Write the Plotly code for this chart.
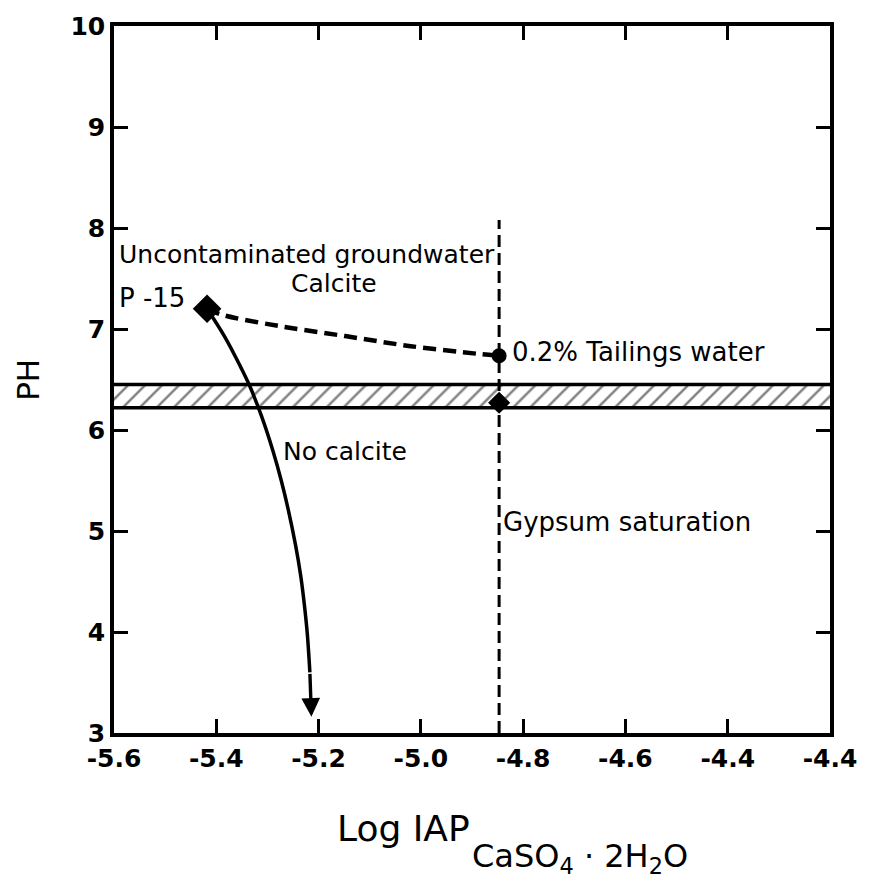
import plotly.graph_objects as go

# ---- data ----
x_ticks = [-5.6, -5.4, -5.2, -5.0, -4.8, -4.6, -4.4, -4.2]
x_ticktext = ["-5.6", "-5.4", "-5.2", "-5.0", "-4.8", "-4.6", "-4.4", "-4.4"]
y_ticks = [3, 4, 5, 6, 7, 8, 9, 10]

# P-15 uncontaminated groundwater
p15_x = [-5.418]
p15_y = [7.20]

# 0.2% tailings water
tail_x = [-4.847]
tail_y = [6.735]

# gypsum saturation point
gyp_x = [-4.847]
gyp_y = [6.27]

# gypsum saturation line
gypline_x = [-4.847, -4.847]
gypline_y = [3.0, 8.08]

# calcite path (dashed)
calc_x = [-5.418, -5.388, -5.278, -5.148, -5.02, -4.89, -4.847]
calc_y = [7.20, 7.14, 7.03, 6.93, 6.83, 6.755, 6.735]

# no calcite path (solid, arrow at end)
nocalc_x = [-5.418, -5.382, -5.352, -5.335, -5.311, -5.289, -5.273,
            -5.259, -5.245, -5.235, -5.228, -5.222, -5.217, -5.214]
nocalc_y = [7.20, 6.91, 6.62, 6.44, 6.13, 5.79, 5.50,
            5.205, 4.86, 4.56, 4.28, 3.98, 3.60, 3.16]

# hatched pH band
band_low = 6.22
band_high = 6.45
x_min, x_max = -5.6, -4.2

FONT = "DejaVu Sans"

fig = go.Figure()

# hatched band
fig.add_trace(go.Scatter(
    x=[x_min, x_max, x_max, x_min, x_min],
    y=[band_low, band_low, band_high, band_high, band_low],
    mode="lines", fill="toself", fillcolor="white",
    fillpattern=dict(shape="/", fgcolor="black", bgcolor="white", size=12, solidity=0.2),
    line=dict(color="black", width=0), hoverinfo="skip", showlegend=False))
for yv in (band_low, band_high):
    fig.add_trace(go.Scatter(x=[x_min, x_max], y=[yv, yv], mode="lines",
                             line=dict(color="black", width=3.5), showlegend=False))

# gypsum saturation line
fig.add_trace(go.Scatter(x=gypline_x, y=gypline_y, mode="lines",
                         line=dict(color="black", width=3, dash="12px,6px"), showlegend=False))

# calcite dashed path
fig.add_trace(go.Scatter(x=calc_x, y=calc_y, mode="lines", line_shape="spline",
                         line=dict(color="black", width=4.5, dash="13px,7px"), showlegend=False))

# no calcite path
fig.add_trace(go.Scatter(x=nocalc_x[:-1], y=nocalc_y[:-1], mode="lines", line_shape="spline",
                         line=dict(color="black", width=3.5), showlegend=False))
fig.add_annotation(x=nocalc_x[-1], y=nocalc_y[-1], ax=nocalc_x[-2], ay=nocalc_y[-2],
                   xref="x", yref="y", axref="x", ayref="y", text="",
                   showarrow=True, arrowhead=2, arrowsize=1.1, arrowwidth=3.4, arrowcolor="black")

# points
fig.add_trace(go.Scatter(x=p15_x, y=p15_y, mode="markers",
                         marker=dict(symbol="diamond", size=22, color="black"), showlegend=False))
fig.add_trace(go.Scatter(x=tail_x, y=tail_y, mode="markers",
                         marker=dict(symbol="circle", size=15, color="black"), showlegend=False))
fig.add_trace(go.Scatter(x=gyp_x, y=gyp_y, mode="markers",
                         marker=dict(symbol="diamond", size=17, color="black"), showlegend=False))

# text labels
def label(x, y, text, size=25, xanchor="left"):
    fig.add_annotation(x=x, y=y, xref="x", yref="y", text=text, showarrow=False,
                       xanchor=xanchor, yanchor="middle",
                       font=dict(family=FONT, size=size, color="black"))

label(-5.594, 7.74, "Uncontaminated groundwater")
label(-5.594, 7.31, "P -15", size=26)
label(-5.257, 7.45, "Calcite")
label(-4.826, 6.77, "0.2% Tailings water", size=26)
label(-5.274, 5.79, "No calcite")
label(-4.843, 5.09, "Gypsum saturation", size=26)

# axis titles
fig.add_annotation(x=-0.121, y=0.5, xref="paper", yref="paper", text="PH", textangle=-90,
                   showarrow=False, xanchor="center", yanchor="middle",
                   font=dict(family=FONT, size=31, color="black"))
fig.add_annotation(x=0.309, y=-0.135, xref="paper", yref="paper",
                   text="Log IAP",
                   showarrow=False, xanchor="left", yanchor="middle",
                   font=dict(family=FONT, size=36, color="black"))
fig.add_annotation(x=0.497, y=-0.177, xref="paper", yref="paper",
                   text="CaSO<sub>4</sub> · 2H<sub>2</sub>O",
                   showarrow=False, xanchor="left", yanchor="middle",
                   font=dict(family=FONT, size=32, color="black"))

axis_common = dict(showline=True, linecolor="black", linewidth=3.5, mirror="ticks",
                   ticks="inside", ticklen=14, tickwidth=2.5, tickcolor="black",
                   showgrid=False, zeroline=False,
                   tickfont=dict(family=FONT, size=25, color="black", weight="bold"))

fig.update_layout(
    width=869, height=879,
    margin=dict(l=114, r=33, t=15, b=146),
    paper_bgcolor="white", plot_bgcolor="white",
    xaxis=dict(range=[x_min, x_max], tickvals=x_ticks, ticktext=x_ticktext, **axis_common),
    yaxis=dict(range=[3, 10], tickvals=y_ticks, **axis_common),
)

fig.write_html("out.html")
